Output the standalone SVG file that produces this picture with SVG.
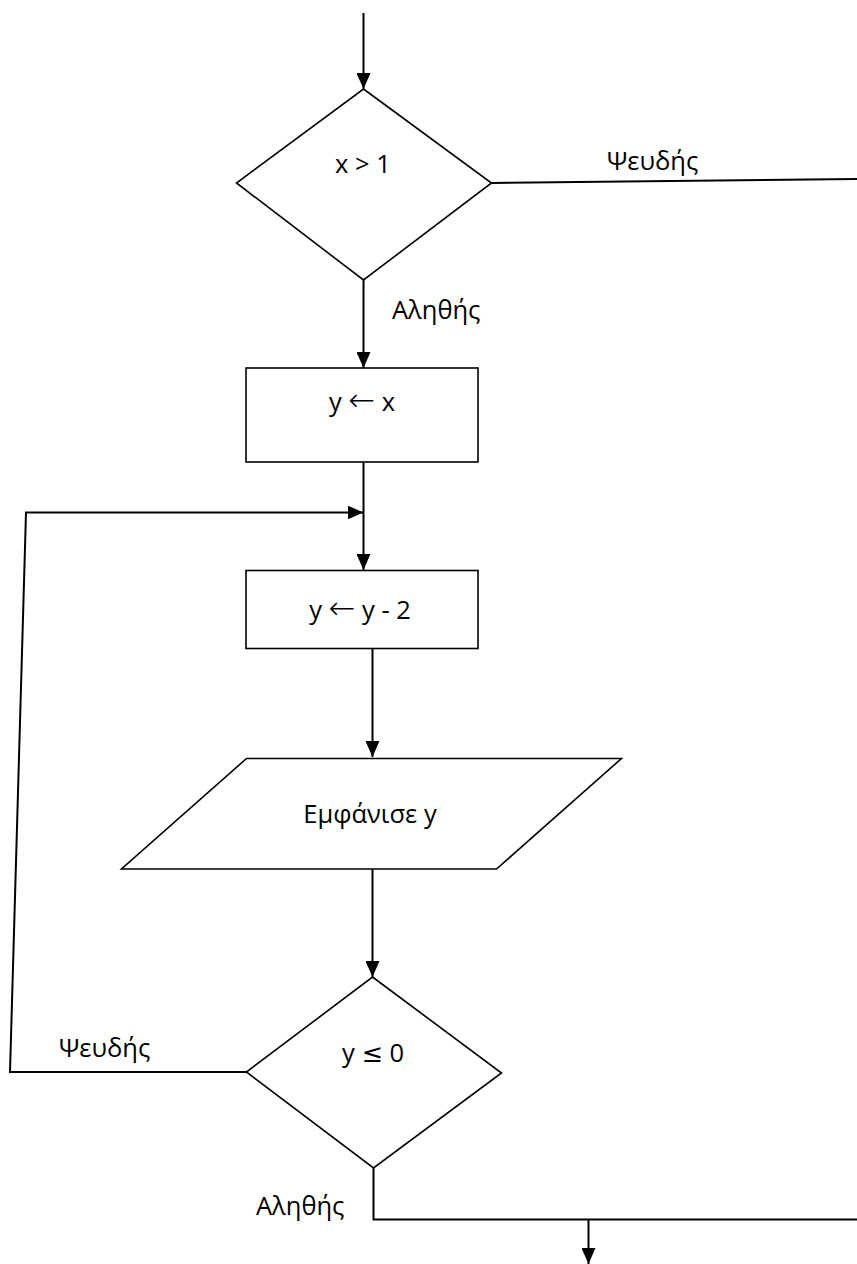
<svg xmlns="http://www.w3.org/2000/svg" width="857" height="1264" viewBox="0 0 857 1264">
<style>
.shape{fill:#fff;stroke:#000;stroke-width:1.6;stroke-linejoin:miter}
.conn{fill:none;stroke:#000;stroke-width:2}
.lbl{font-family:"Open Sans","Noto Sans",sans-serif;font-size:25.5px;fill:#000}
.sym{font-family:"DejaVu Sans",sans-serif}
.arr{font-family:"DejaVu Sans",sans-serif;font-size:32px;font-weight:200}
.mid{text-anchor:middle}
</style>
<defs>
<marker id="ah" viewBox="0 0 16 14" refX="16" refY="7" markerWidth="16" markerHeight="14" markerUnits="userSpaceOnUse" orient="auto">
<path d="M0,0 L16,7 L0,14 Z" fill="#000"/>
</marker>
</defs>
<rect width="857" height="1264" fill="#fff"/>
<g id="connectors">
<line class="conn" x1="363.5" y1="13" x2="363.5" y2="89" marker-end="url(#ah)"/>
<line class="conn" x1="492" y1="183" x2="857" y2="179"/>
<line class="conn" x1="363.5" y1="280" x2="363.5" y2="368" marker-end="url(#ah)"/>
<line class="conn" x1="363.5" y1="462" x2="363.5" y2="570" marker-end="url(#ah)"/>
<polyline class="conn" points="247,1072 10,1072 26,512.5 363.5,512.5" marker-end="url(#ah)"/>
<line class="conn" x1="372.5" y1="648" x2="372.5" y2="757" marker-end="url(#ah)"/>
<line class="conn" x1="372.5" y1="869" x2="372.5" y2="977" marker-end="url(#ah)"/>
<polyline class="conn" points="373.5,1168 373.5,1219.5 857,1219.5"/>
<line class="conn" x1="588.5" y1="1219.5" x2="588.5" y2="1264" marker-end="url(#ah)"/>
</g>
<g id="cond1">
<polygon class="shape" points="363.5,89 491.5,183 363.5,280 236.5,183"/>
<text class="lbl mid" x="363" y="173">x &gt; 1</text>
</g>
<g id="lbl-false1"><text class="lbl" x="607" y="170">Ψευδής</text></g>
<g id="lbl-true1"><text class="lbl" x="392" y="319">Αληθής</text></g>
<g id="assign1">
<rect class="shape" x="246" y="368" width="232" height="94"/>
<text class="lbl mid" x="362" y="411">y <tspan class="arr">←</tspan> x</text>
</g>
<g id="assign2">
<rect class="shape" x="246" y="570.5" width="232" height="78"/>
<text class="lbl mid" x="360" y="619">y <tspan class="arr">←</tspan> y - 2</text>
</g>
<g id="output">
<polygon class="shape" points="246.5,758.5 621.5,758.5 496.5,869 121.5,869"/>
<text class="lbl mid" x="370" y="823">Εμφάνισε y</text>
</g>
<g id="cond2">
<polygon class="shape" points="372.5,977 501.5,1073 373.5,1168 246.5,1072"/>
<text class="lbl mid" x="373" y="1062">y <tspan class="sym">≤</tspan> 0</text>
</g>
<g id="lbl-false2"><text class="lbl" x="59" y="1057">Ψευδής</text></g>
<g id="lbl-true2"><text class="lbl" x="256" y="1215">Αληθής</text></g>
</svg>
